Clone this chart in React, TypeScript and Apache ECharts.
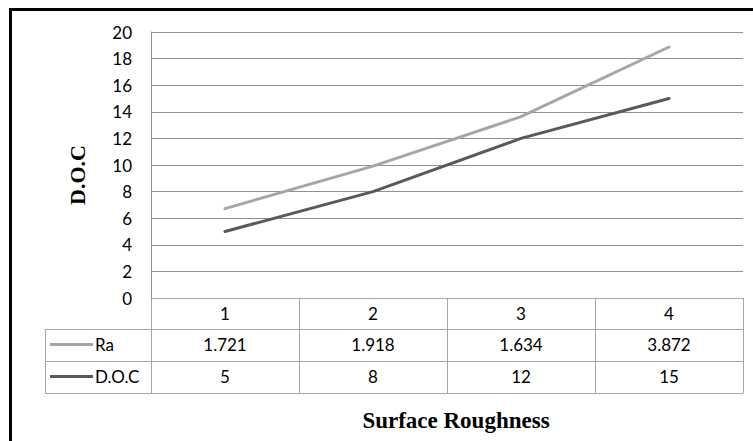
import React, { useEffect, useRef } from "react";
import * as echarts from "echarts";

const categories = ["1", "2", "3", "4"];
const raValues = [1.721, 1.918, 1.634, 3.872];
const docValues = [5, 8, 12, 15];
const yTicks = { min: 0, max: 20, interval: 2 };
const seriesNames = { ra: "Ra", doc: "D.O.C" };
const xTitle = "Surface Roughness";
const yTitle = "D.O.C";

const RA_COLOR = "#A6A6A6";
const DOC_COLOR = "#595959";
const TABLE_LINE = "#A6A6A6";
const GRID_LINE = "#8F8F8F";
const SANS = "Lato, 'Open Sans', sans-serif";
const SERIF = "'Liberation Serif', 'Times New Roman', serif";
const FS = 17;

export default function App() {
  const ref = useRef<HTMLDivElement>(null);
  useEffect(() => {
    if (!ref.current) return;
    const chart = echarts.init(ref.current, undefined, { renderer: "svg" });
    const tableAxis = (labels: string[], offset: number, showTicks: boolean, showLabels: boolean) => ({
      type: "category",
      data: labels,
      gridIndex: 0,
      position: "bottom",
      offset,
      boundaryGap: true,
      axisLine: { show: true, lineStyle: { color: TABLE_LINE, width: 1 } },
      axisTick: { show: showTicks, length: 32, inside: false, lineStyle: { color: TABLE_LINE, width: 1 } },
      axisLabel: {
        show: showLabels,
        margin: 7,
        fontSize: FS,
        lineHeight: 17,
        color: "#000",
        fontFamily: SANS,
        interval: 0,
      },
      splitLine: { show: false },
    });
    chart.setOption({
      animation: false,
      backgroundColor: "#fff",
      grid: { left: 151, right: 10, top: 32, bottom: 143, containLabel: false },
      legend: {
        data: [seriesNames.ra, seriesNames.doc],
        orient: "vertical",
        left: 50,
        top: 336,
        icon: "rect",
        itemWidth: 43,
        itemHeight: 3,
        itemGap: 15,
        padding: 0,
        selectedMode: false,
        textStyle: { fontSize: FS, lineHeight: 17, color: "#000", fontFamily: SANS, padding: [0, 0, 0, -3] },
      },
      xAxis: [
        { ...tableAxis(categories, 0, true, true), axisTick: { show: true, length: 31, lineStyle: { color: TABLE_LINE, width: 1 } } },
        tableAxis(raValues.map(String), 31, true, true),
        tableAxis(docValues.map(String), 63, true, true),
        tableAxis(categories, 95, false, false),
      ],
      yAxis: {
        type: "value",
        min: yTicks.min,
        max: yTicks.max,
        interval: yTicks.interval,
        axisLine: { show: true, lineStyle: { color: GRID_LINE, width: 1 } },
        axisTick: { show: false },
        axisLabel: { margin: 19, fontSize: FS, color: "#000", fontFamily: SANS },
        splitLine: { show: true, lineStyle: { color: GRID_LINE, width: 1 } },
      },
      series: [
        {
          name: seriesNames.doc,
          type: "line",
          stack: "total",
          data: docValues,
          symbol: "none",
          lineStyle: { color: DOC_COLOR, width: 3, cap: "round" },
          itemStyle: { color: DOC_COLOR },
        },
        {
          name: seriesNames.ra,
          type: "line",
          stack: "total",
          data: raValues,
          symbol: "none",
          lineStyle: { color: RA_COLOR, width: 3, cap: "round" },
          itemStyle: { color: RA_COLOR },
        },
      ],
      graphic: [
        { type: "rect", shape: { x: 9, y: 8, width: 744, height: 3 }, style: { fill: "#000" } },
        { type: "rect", shape: { x: 9, y: 8, width: 3, height: 433 }, style: { fill: "#000" } },
        { type: "line", shape: { x1: 45, y1: 329.5, x2: 151, y2: 329.5 }, style: { stroke: TABLE_LINE, lineWidth: 1 } },
        { type: "line", shape: { x1: 45, y1: 361.5, x2: 151, y2: 361.5 }, style: { stroke: TABLE_LINE, lineWidth: 1 } },
        { type: "line", shape: { x1: 45, y1: 393.5, x2: 151, y2: 393.5 }, style: { stroke: TABLE_LINE, lineWidth: 1 } },
        { type: "line", shape: { x1: 45.5, y1: 329, x2: 45.5, y2: 394 }, style: { stroke: TABLE_LINE, lineWidth: 1 } },
        {
          type: "text",
          x: 456,
          y: 420,
          style: { text: xTitle, font: `bold 23px ${SERIF}`, fill: "#000", align: "center", verticalAlign: "middle" },
        },
        {
          type: "text",
          x: 77,
          y: 175,
          rotation: Math.PI / 2,
          style: { text: yTitle, font: `bold 22px ${SERIF}`, fill: "#000", align: "center", verticalAlign: "middle" },
        },
      ],
    });
    return () => chart.dispose();
  }, []);
  return (
    <div
      ref={ref}
      style={{ position: "fixed", left: 0, top: 0, width: 753, height: 441, background: "#fff" }}
    />
  );
}
